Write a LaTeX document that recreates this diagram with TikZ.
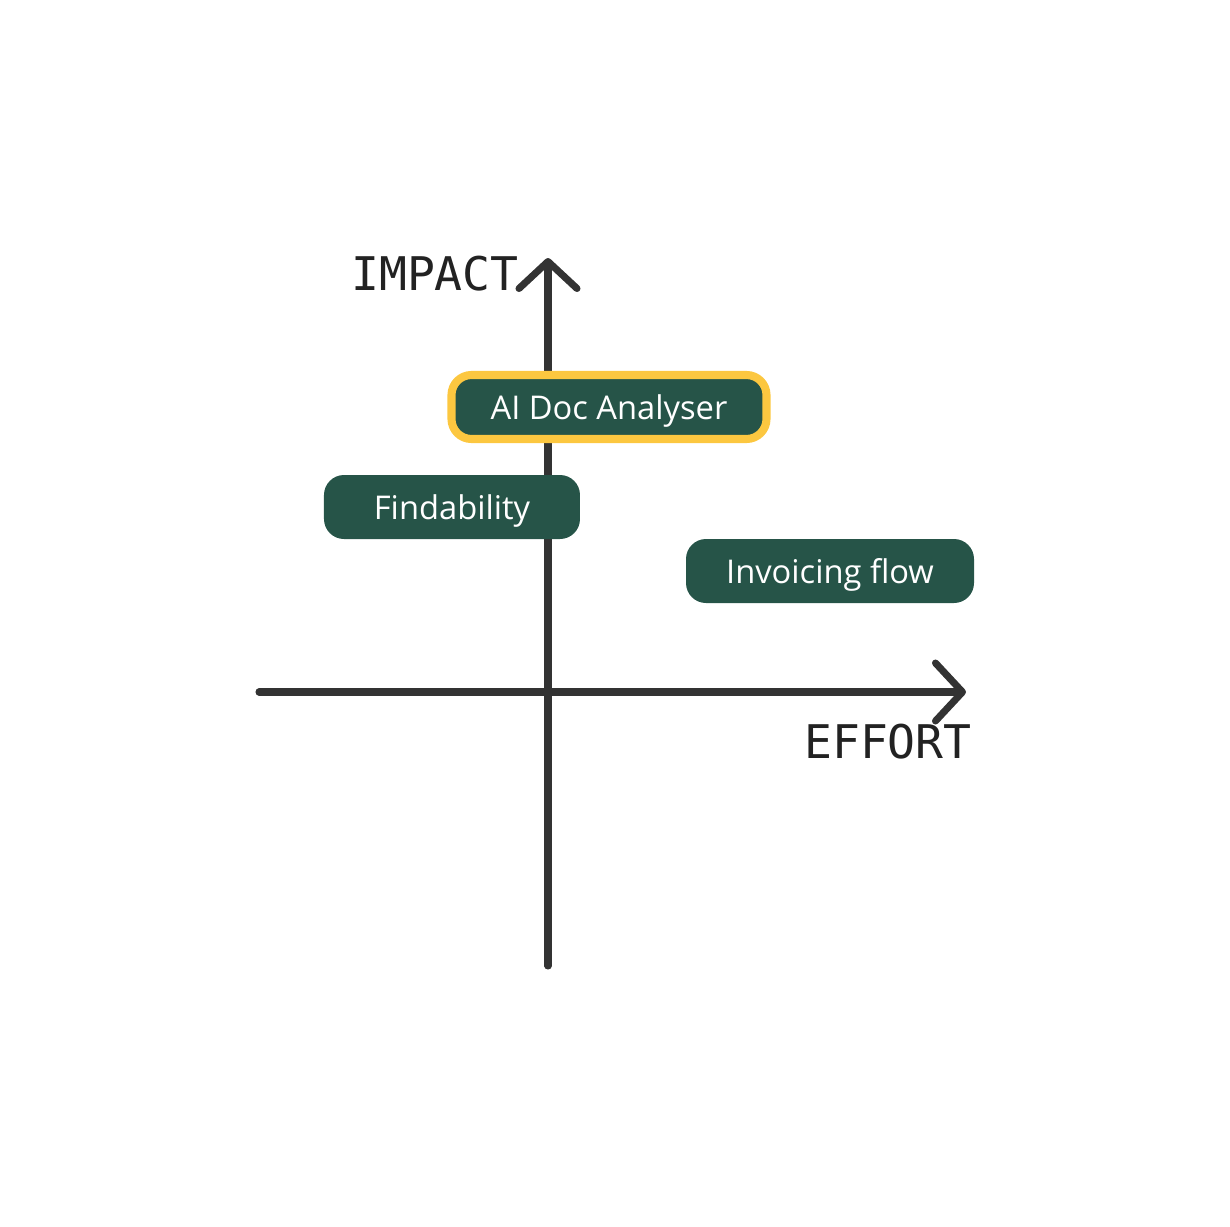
\documentclass[tikz,border=0pt]{standalone}
\usepackage{fontspec}
\setmainfont{Open Sans}
\setmonofont{DejaVu Sans Mono}
\usetikzlibrary{arrows.meta}
\definecolor{axis}{RGB}{51, 51, 51}
\definecolor{ink}{RGB}{34, 34, 34}
\definecolor{item}{RGB}{38, 84, 72}
\definecolor{pick}{RGB}{252, 199, 64}

\begin{document}
\begin{tikzpicture}[
    axis_style/.style={
        draw=axis,
        line width=2pt,
        line cap=round,
        -{Straight Barb[length=0.27cm, width=0.58cm, round]}
    },
    label_style/.style={text=ink, font=\fontsize{13.2}{15}\selectfont\ttfamily},
    item_style/.style={
        fill=item,
        text=white,
        rounded corners=0.2cm,
        minimum height=0.64cm,
        inner sep=0pt,
        text height=0.72em,
        text depth=0pt,
        font=\fontsize{9.3}{11}\selectfont
    },
    pick_style/.style={item_style, draw=pick, line width=2.3pt}
]

\useasboundingbox (-5.48,-5.34) rectangle (6.82,6.92);

% axes
\coordinate (origin) at (0,0);
\coordinate (y_lo) at (0,-2.74);
\coordinate (y_hi) at (0,4.34);
\coordinate (x_lo) at (-2.89,0);
\coordinate (x_hi) at (4.18,0);

\draw[axis_style] (y_lo) -- (y_hi);
\draw[axis_style] (x_lo) -- (x_hi);

\node[label_style] (impact) at (-1.13,4.18) {IMPACT};
\node[label_style] (effort) at (3.40,-0.50) {EFFORT};

% items
\node[pick_style, minimum width=3.15cm] (analyser) at (0.61,2.85) {AI Doc Analyser};
\node[item_style, minimum width=2.56cm] (find) at (-0.96,1.85) {Findability};
\node[item_style, minimum width=2.88cm] (invoice) at (2.82,1.21) {Invoicing flow};

\end{tikzpicture}
\end{document}
